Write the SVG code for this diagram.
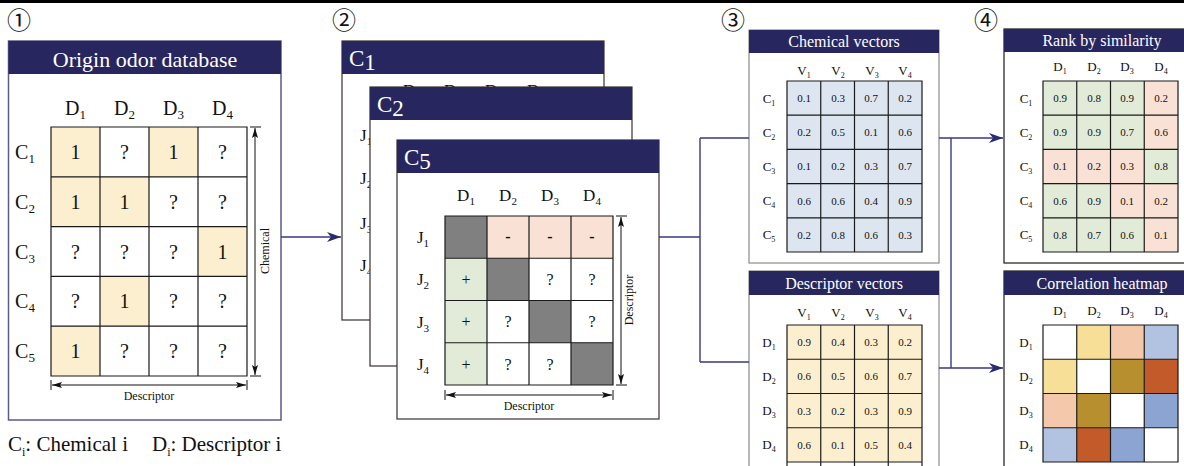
<svg xmlns="http://www.w3.org/2000/svg" width="1184" height="466" viewBox="0 0 1184 466">
<style>
text{font-family:"Liberation Serif","Noto Sans CJK JP",serif;fill:#111}
.hd{fill:#28265e}
.num{font-size:24px}
.grid{fill:none;stroke:#1a1a1a;stroke-width:1.2}
.conn{fill:none;stroke:#3a3880;stroke-width:1.4}
.dbl{fill:none;stroke:#111;stroke-width:1}
.yl{fill:#fcefcf}.pk{fill:#f9e1d5}.gn{fill:#e1ebd8}.bl{fill:#dde6f0}.gy{fill:#808080}
.l20{font-size:20px}
.l17{font-size:17px}
.l13{font-size:13px}
.v{font-size:11px}
.ax{font-size:12px}
</style>
<defs>
<marker id="nav" viewBox="0 0 14 10" refX="14" refY="5" markerWidth="14" markerHeight="10" markerUnits="userSpaceOnUse" orient="auto"><path d="M0,0 L14,5 L0,10 L4,5 Z" fill="#2b2a6e"/></marker>
<marker id="blk" viewBox="0 0 10 6" refX="10" refY="3" markerWidth="10" markerHeight="6" markerUnits="userSpaceOnUse" orient="auto-start-reverse"><path d="M0,0 L10,3 L0,6 L2,3 Z" fill="#111"/></marker>
</defs>
<line x1="0" y1="1.5" x2="1184" y2="1.5" stroke="#000" stroke-width="3"/>

<!-- Panel 1 -->
<g id="panel1">
<text class="num" x="7" y="29">①</text>
<rect x="8.5" y="41" width="272.5" height="379" fill="#fff" stroke="#5d5a8c" stroke-width="1.5"/>
<rect class="hd" x="8.5" y="41" width="272.5" height="33"/>
<text x="145" y="67" font-size="22" text-anchor="middle" style="fill:#fff">Origin odor database</text>
<g class="l20" text-anchor="middle">
<text x="75.5" y="115">D<tspan font-size="13" dy="4">1</tspan></text>
<text x="124.5" y="115">D<tspan font-size="13" dy="4">2</tspan></text>
<text x="173.5" y="115">D<tspan font-size="13" dy="4">3</tspan></text>
<text x="222.5" y="115">D<tspan font-size="13" dy="4">4</tspan></text>
<text x="25" y="158.9">C<tspan font-size="13" dy="4">1</tspan></text>
<text x="25" y="208.7">C<tspan font-size="13" dy="4">2</tspan></text>
<text x="25" y="258.5">C<tspan font-size="13" dy="4">3</tspan></text>
<text x="25" y="308.3">C<tspan font-size="13" dy="4">4</tspan></text>
<text x="25" y="358.1">C<tspan font-size="13" dy="4">5</tspan></text>
</g>
<rect class="yl" x="51" y="127" width="49" height="49.8"/>
<rect class="yl" x="149" y="127" width="49" height="49.8"/>
<rect class="yl" x="51" y="176.8" width="49" height="49.8"/>
<rect class="yl" x="100" y="176.8" width="49" height="49.8"/>
<rect class="yl" x="198" y="226.6" width="49" height="49.8"/>
<rect class="yl" x="100" y="276.4" width="49" height="49.8"/>
<rect class="yl" x="51" y="326.2" width="49" height="49.8"/>
<path class="grid" d="M51 127H247V376H51Z M100 127V376 M149 127V376 M198 127V376 M51 176.8H247 M51 226.6H247 M51 276.4H247 M51 326.2H247"/>
<g class="l20" text-anchor="middle">
<text x="75.5" y="158.9">1</text><text x="124.5" y="158.9">?</text><text x="173.5" y="158.9">1</text><text x="222.5" y="158.9">?</text>
<text x="75.5" y="208.7">1</text><text x="124.5" y="208.7">1</text><text x="173.5" y="208.7">?</text><text x="222.5" y="208.7">?</text>
<text x="75.5" y="258.5">?</text><text x="124.5" y="258.5">?</text><text x="173.5" y="258.5">?</text><text x="222.5" y="258.5">1</text>
<text x="75.5" y="308.3">?</text><text x="124.5" y="308.3">1</text><text x="173.5" y="308.3">?</text><text x="222.5" y="308.3">?</text>
<text x="75.5" y="358.1">1</text><text x="124.5" y="358.1">?</text><text x="173.5" y="358.1">?</text><text x="222.5" y="358.1">?</text>
</g>
<path class="dbl" d="M250 127H261 M250 376H261 M51 380V390 M247 380V390"/>
<line class="dbl" x1="255" y1="128" x2="255" y2="375" marker-start="url(#blk)" marker-end="url(#blk)"/>
<line class="dbl" x1="52" y1="385" x2="246" y2="385" marker-start="url(#blk)" marker-end="url(#blk)"/>
<text class="ax" x="0" y="0" text-anchor="middle" transform="translate(269,251) rotate(-90)">Chemical</text>
<text class="ax" x="149" y="400" text-anchor="middle">Descriptor</text>
</g>
<text x="8" y="451" font-size="21">C<tspan font-size="12" dy="5">i</tspan><tspan dy="-5">: Chemical i</tspan><tspan x="152">D</tspan><tspan font-size="12" dy="5">i</tspan><tspan dy="-5">: Descriptor i</tspan></text>

<!-- Panel 2 -->
<g id="panel2">
<text class="num" x="332" y="29">②</text>
<g id="card-c1">
<rect x="342" y="41" width="262" height="279" fill="#fff" stroke="#3b2f2f" stroke-width="1.2"/>
<rect class="hd" x="342" y="41" width="262" height="33"/>
<text x="349" y="66" font-size="23" style="fill:#fff">C<tspan dy="4">1</tspan></text>
<g class="l17">
<text x="403" y="96">D</text><text x="444" y="96">D</text><text x="485" y="96">D</text><text x="527" y="96">D</text>
<text x="360" y="141">J<tspan font-size="11" dy="4">1</tspan></text>
<text x="360" y="184">J<tspan font-size="11" dy="4">2</tspan></text>
<text x="360" y="229">J<tspan font-size="11" dy="4">3</tspan></text>
<text x="360" y="271">J<tspan font-size="11" dy="4">4</tspan></text>
</g>
</g>
<g id="card-c2">
<rect x="370" y="87" width="262" height="279" fill="#fff" stroke="#3b2f2f" stroke-width="1.2"/>
<rect class="hd" x="370" y="87" width="262" height="33"/>
<text x="377" y="112" font-size="23" style="fill:#fff">C<tspan dy="4">2</tspan></text>
</g>
<g id="card-c5">
<rect x="397" y="140" width="262" height="279" fill="#fff" stroke="#3b2f2f" stroke-width="1.2"/>
<rect class="hd" x="397" y="140" width="262" height="33"/>
<text x="404" y="165" font-size="23" style="fill:#fff">C<tspan dy="4">5</tspan></text>
<g class="l17" text-anchor="middle">
<text x="466" y="201">D<tspan font-size="11" dy="4">1</tspan></text>
<text x="508" y="201">D<tspan font-size="11" dy="4">2</tspan></text>
<text x="550" y="201">D<tspan font-size="11" dy="4">3</tspan></text>
<text x="592" y="201">D<tspan font-size="11" dy="4">4</tspan></text>
<text x="423" y="243">J<tspan font-size="11" dy="4">1</tspan></text>
<text x="423" y="285.4">J<tspan font-size="11" dy="4">2</tspan></text>
<text x="423" y="327.6">J<tspan font-size="11" dy="4">3</tspan></text>
<text x="423" y="369.9">J<tspan font-size="11" dy="4">4</tspan></text>
</g>
<rect class="gy" x="445" y="216" width="42" height="42.25"/>
<rect class="pk" x="487" y="216" width="42" height="42.25"/>
<rect class="pk" x="529" y="216" width="42" height="42.25"/>
<rect class="pk" x="571" y="216" width="42" height="42.25"/>
<rect class="gn" x="445" y="258.25" width="42" height="42.25"/>
<rect class="gy" x="487" y="258.25" width="42" height="42.25"/>
<rect class="gn" x="445" y="300.5" width="42" height="42.25"/>
<rect class="gy" x="529" y="300.5" width="42" height="42.25"/>
<rect class="gn" x="445" y="342.75" width="42" height="42.25"/>
<rect class="gy" x="571" y="342.75" width="42" height="42.25"/>
<path class="grid" d="M445 216H613V385H445Z M487 216V385 M529 216V385 M571 216V385 M445 258.25H613 M445 300.5H613 M445 342.75H613"/>
<g font-size="16" text-anchor="middle">
<text x="508" y="242" font-weight="bold">-</text><text x="550" y="242" font-weight="bold">-</text><text x="592" y="242" font-weight="bold">-</text>
<text x="466" y="285">+</text><text x="550" y="285">?</text><text x="592" y="285">?</text>
<text x="466" y="327">+</text><text x="508" y="327">?</text><text x="592" y="327">?</text>
<text x="466" y="369.5">+</text><text x="508" y="369.5">?</text><text x="550" y="369.5">?</text>
</g>
<path class="dbl" d="M616 216H627 M616 385H627 M445 390V400 M613 390V400"/>
<line class="dbl" x1="621" y1="217" x2="621" y2="384" marker-start="url(#blk)" marker-end="url(#blk)"/>
<line class="dbl" x1="446" y1="395" x2="612" y2="395" marker-start="url(#blk)" marker-end="url(#blk)"/>
<text class="ax" x="0" y="0" text-anchor="middle" transform="translate(633,300) rotate(-90)">Descriptor</text>
<text class="ax" x="529" y="410" text-anchor="middle">Descriptor</text>
</g>
</g>

<!-- Panel 3 -->
<g id="panel3">
<text class="num" x="721" y="29">③</text>
<g id="chemical-vectors">
<rect x="749" y="30" width="190" height="233" fill="#fff" stroke="#8a8a8a" stroke-width="1.2"/>
<rect class="hd" x="749" y="30" width="190" height="23"/>
<text x="844" y="47" font-size="16" text-anchor="middle" style="fill:#fff">Chemical vectors</text>
<g class="l13" text-anchor="middle">
<text x="804" y="75">V<tspan font-size="8" dy="3">1</tspan></text>
<text x="838" y="75">V<tspan font-size="8" dy="3">2</tspan></text>
<text x="872" y="75">V<tspan font-size="8" dy="3">3</tspan></text>
<text x="905" y="75">V<tspan font-size="8" dy="3">4</tspan></text>
<text x="769" y="102.5">C<tspan font-size="8" dy="3">1</tspan></text>
<text x="769" y="136.7">C<tspan font-size="8" dy="3">2</tspan></text>
<text x="769" y="170.9">C<tspan font-size="8" dy="3">3</tspan></text>
<text x="769" y="205.1">C<tspan font-size="8" dy="3">4</tspan></text>
<text x="769" y="239.3">C<tspan font-size="8" dy="3">5</tspan></text>
</g>
<rect class="bl" x="787" y="81" width="135" height="171"/>
<path class="grid" d="M787 81H922V252H787Z M820.75 81V252 M854.5 81V252 M888.25 81V252 M787 115.2H922 M787 149.4H922 M787 183.6H922 M787 217.8H922"/>
<g class="v" text-anchor="middle">
<text x="804" y="102">0.1</text><text x="838" y="102">0.3</text><text x="871" y="102">0.7</text><text x="905" y="102">0.2</text>
<text x="804" y="136.2">0.2</text><text x="838" y="136.2">0.5</text><text x="871" y="136.2">0.1</text><text x="905" y="136.2">0.6</text>
<text x="804" y="170.4">0.1</text><text x="838" y="170.4">0.2</text><text x="871" y="170.4">0.3</text><text x="905" y="170.4">0.7</text>
<text x="804" y="204.6">0.6</text><text x="838" y="204.6">0.6</text><text x="871" y="204.6">0.4</text><text x="905" y="204.6">0.9</text>
<text x="804" y="238.8">0.2</text><text x="838" y="238.8">0.8</text><text x="871" y="238.8">0.6</text><text x="905" y="238.8">0.3</text>
</g>
</g>
<g id="descriptor-vectors">
<rect x="749" y="271" width="190" height="205" fill="#fff" stroke="#8a8a8a" stroke-width="1.2"/>
<rect class="hd" x="749" y="271" width="190" height="24"/>
<text x="844" y="289" font-size="16" text-anchor="middle" style="fill:#fff">Descriptor vectors</text>
<g class="l13" text-anchor="middle">
<text x="804" y="317">V<tspan font-size="8" dy="3">1</tspan></text>
<text x="838" y="317">V<tspan font-size="8" dy="3">2</tspan></text>
<text x="872" y="317">V<tspan font-size="8" dy="3">3</tspan></text>
<text x="905" y="317">V<tspan font-size="8" dy="3">4</tspan></text>
<text x="769" y="346.5">D<tspan font-size="8" dy="3">1</tspan></text>
<text x="769" y="380.8">D<tspan font-size="8" dy="3">2</tspan></text>
<text x="769" y="415">D<tspan font-size="8" dy="3">3</tspan></text>
<text x="769" y="449.3">D<tspan font-size="8" dy="3">4</tspan></text>
</g>
<rect class="yl" x="787" y="325" width="135" height="137"/>
<path class="grid" d="M787 462V325H922V462 M787 462H922 M820.75 325V466 M854.5 325V466 M888.25 325V466 M787 462V466 M922 462V466"/>
<path class="grid" d="M787 359.25H922 M787 393.5H922 M787 427.75H922"/>
<g class="v" text-anchor="middle">
<text x="804" y="346">0.9</text><text x="838" y="346">0.4</text><text x="871" y="346">0.3</text><text x="905" y="346">0.2</text>
<text x="804" y="380.3">0.6</text><text x="838" y="380.3">0.5</text><text x="871" y="380.3">0.6</text><text x="905" y="380.3">0.7</text>
<text x="804" y="414.5">0.3</text><text x="838" y="414.5">0.2</text><text x="871" y="414.5">0.3</text><text x="905" y="414.5">0.9</text>
<text x="804" y="448.8">0.6</text><text x="838" y="448.8">0.1</text><text x="871" y="448.8">0.5</text><text x="905" y="448.8">0.4</text>
</g>
</g>
</g>

<!-- Panel 4 -->
<g id="panel4">
<text class="num" x="974" y="29">④</text>
<g id="rank-by-similarity">
<rect x="1004" y="29" width="190" height="234" fill="#fff" stroke="#1a1a1a" stroke-width="1.2"/>
<rect class="hd" x="1004" y="29" width="190" height="23"/>
<text x="1102" y="46" font-size="16" text-anchor="middle" style="fill:#fff">Rank by similarity</text>
<g class="l13" text-anchor="middle">
<text x="1060" y="71">D<tspan font-size="8" dy="3">1</tspan></text>
<text x="1094" y="71">D<tspan font-size="8" dy="3">2</tspan></text>
<text x="1127" y="71">D<tspan font-size="8" dy="3">3</tspan></text>
<text x="1161" y="71">D<tspan font-size="8" dy="3">4</tspan></text>
<text x="1026" y="102.5">C<tspan font-size="8" dy="3">1</tspan></text>
<text x="1026" y="136.7">C<tspan font-size="8" dy="3">2</tspan></text>
<text x="1026" y="170.9">C<tspan font-size="8" dy="3">3</tspan></text>
<text x="1026" y="205.1">C<tspan font-size="8" dy="3">4</tspan></text>
<text x="1026" y="239.3">C<tspan font-size="8" dy="3">5</tspan></text>
</g>
<rect class="gn" x="1043" y="81" width="135" height="171"/>
<rect class="pk" x="1144.25" y="81" width="33.75" height="68.4"/>
<rect class="pk" x="1043" y="149.4" width="101.25" height="34.2"/>
<rect class="pk" x="1110.5" y="183.6" width="67.5" height="34.2"/>
<rect class="pk" x="1144.25" y="217.8" width="33.75" height="34.2"/>
<path class="grid" d="M1043 81H1178V252H1043Z M1076.75 81V252 M1110.5 81V252 M1144.25 81V252 M1043 115.2H1178 M1043 149.4H1178 M1043 183.6H1178 M1043 217.8H1178"/>
<g class="v" text-anchor="middle">
<text x="1060" y="102">0.9</text><text x="1094" y="102">0.8</text><text x="1127" y="102">0.9</text><text x="1161" y="102">0.2</text>
<text x="1060" y="136.2">0.9</text><text x="1094" y="136.2">0.9</text><text x="1127" y="136.2">0.7</text><text x="1161" y="136.2">0.6</text>
<text x="1060" y="170.4">0.1</text><text x="1094" y="170.4">0.2</text><text x="1127" y="170.4">0.3</text><text x="1161" y="170.4">0.8</text>
<text x="1060" y="204.6">0.6</text><text x="1094" y="204.6">0.9</text><text x="1127" y="204.6">0.1</text><text x="1161" y="204.6">0.2</text>
<text x="1060" y="238.8">0.8</text><text x="1094" y="238.8">0.7</text><text x="1127" y="238.8">0.6</text><text x="1161" y="238.8">0.1</text>
</g>
</g>
<g id="correlation-heatmap">
<rect x="1004" y="271" width="190" height="205" fill="#fff" stroke="#1a1a1a" stroke-width="1.2"/>
<rect class="hd" x="1004" y="271" width="190" height="24"/>
<text x="1102" y="289" font-size="16" text-anchor="middle" style="fill:#fff">Correlation heatmap</text>
<g class="l13" text-anchor="middle">
<text x="1060" y="315">D<tspan font-size="8" dy="3">1</tspan></text>
<text x="1094" y="315">D<tspan font-size="8" dy="3">2</tspan></text>
<text x="1127" y="315">D<tspan font-size="8" dy="3">3</tspan></text>
<text x="1161" y="315">D<tspan font-size="8" dy="3">4</tspan></text>
<text x="1026" y="346.5">D<tspan font-size="8" dy="3">1</tspan></text>
<text x="1026" y="380.8">D<tspan font-size="8" dy="3">2</tspan></text>
<text x="1026" y="415">D<tspan font-size="8" dy="3">3</tspan></text>
<text x="1026" y="449.3">D<tspan font-size="8" dy="3">4</tspan></text>
</g>
<rect x="1076.75" y="325" width="33.75" height="34.25" fill="#f8df98"/>
<rect x="1110.5" y="325" width="33.75" height="34.25" fill="#f4c9ab"/>
<rect x="1144.25" y="325" width="33.75" height="34.25" fill="#b2c3e1"/>
<rect x="1043" y="359.25" width="33.75" height="34.25" fill="#f8df98"/>
<rect x="1110.5" y="359.25" width="33.75" height="34.25" fill="#b88f2f"/>
<rect x="1144.25" y="359.25" width="33.75" height="34.25" fill="#c25a2a"/>
<rect x="1043" y="393.5" width="33.75" height="34.25" fill="#f4c9ab"/>
<rect x="1076.75" y="393.5" width="33.75" height="34.25" fill="#b88f2f"/>
<rect x="1144.25" y="393.5" width="33.75" height="34.25" fill="#8ba4d2"/>
<rect x="1043" y="427.75" width="33.75" height="34.25" fill="#b2c3e1"/>
<rect x="1076.75" y="427.75" width="33.75" height="34.25" fill="#c25a2a"/>
<rect x="1110.5" y="427.75" width="33.75" height="34.25" fill="#8ba4d2"/>
<path class="grid" d="M1043 325H1178V462H1043Z M1076.75 325V462 M1110.5 325V462 M1144.25 325V462 M1043 359.25H1178 M1043 393.5H1178 M1043 427.75H1178"/>
</g>
</g>

<!-- Connectors -->
<g id="connectors">
<line class="conn" x1="281" y1="237" x2="341" y2="237" marker-end="url(#nav)"/>
<path class="conn" d="M659 237H700 M700 138V362 M700 138H749 M700 362H749"/>
<line class="conn" x1="939" y1="138" x2="1003" y2="138" marker-end="url(#nav)"/>
<path class="conn" d="M951 138V368"/>
<line class="conn" x1="939" y1="368" x2="1003" y2="368" marker-end="url(#nav)"/>
</g>
</svg>
